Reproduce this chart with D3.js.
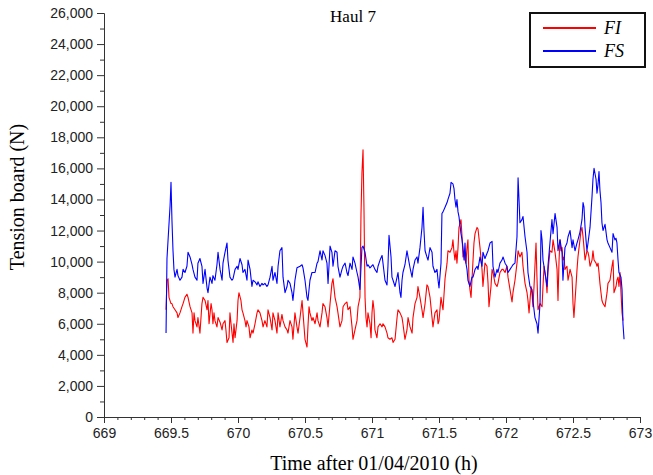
<!DOCTYPE html>
<html><head><meta charset="utf-8">
<script src="https://cdn.jsdelivr.net/npm/d3@7"></script>
<style>html,body{margin:0;padding:0;background:#fff;}</style>
</head><body>
<script>
const chartTitle = "Haul 7";
const xLabel = "Time after 01/04/2010 (h)";
const yLabel = "Tension board (N)";
const seriesNames = ["FI", "FS"];
const seriesColors = ["#ff0000", "#0000ff"];
const xMajorTicks = [669, 669.5, 670, 670.5, 671, 671.5, 672, 672.5, 673];
const yMajorTicks = [0,2000,4000,6000,8000,10000,12000,14000,16000,18000,20000,22000,24000,26000];

// FI (red) : [time (h), tension (N)]
const FI = [[669.463,6900],[669.470,8800],[669.478,8900],[669.485,7700],[669.500,7300],[669.507,7300],[669.515,7100],[669.530,6900],[669.545,6700],[669.552,6400],[669.567,6700],[669.582,7100],[669.590,7300],[669.604,7700],[669.619,7900],[669.627,7700],[669.642,7100],[669.657,6700],[669.664,5400],[669.672,6700],[669.679,6200],[669.694,5800],[669.701,6400],[669.716,5400],[669.731,7300],[669.739,7700],[669.754,7500],[669.769,6900],[669.776,7500],[669.784,6000],[669.799,7300],[669.806,6900],[669.813,6000],[669.821,6700],[669.828,6200],[669.843,5800],[669.851,6400],[669.866,6100],[669.881,5600],[669.888,6000],[669.903,6200],[669.910,5600],[669.918,4800],[669.933,5100],[669.940,6700],[669.948,6000],[669.963,4800],[669.970,6000],[669.978,5100],[669.993,6200],[670.000,7500],[670.007,8000],[670.022,7500],[670.030,6900],[670.037,6700],[670.052,6200],[670.060,5800],[670.067,6200],[670.082,5800],[670.090,5100],[670.104,5600],[670.112,5400],[670.127,6000],[670.142,6700],[670.149,6900],[670.164,6700],[670.179,6200],[670.187,5800],[670.201,6200],[670.216,5800],[670.224,6900],[670.239,6400],[670.254,5600],[670.261,6700],[670.276,6200],[670.291,5400],[670.299,6700],[670.313,5800],[670.328,6600],[670.336,6200],[670.351,5800],[670.366,5600],[670.373,5400],[670.388,6200],[670.403,5800],[670.410,5000],[670.425,6700],[670.440,5800],[670.448,5400],[670.463,6400],[670.478,7500],[670.485,6700],[670.500,5000],[670.515,4500],[670.522,5800],[670.530,7100],[670.537,6700],[670.552,6200],[670.560,6400],[670.575,6000],[670.590,6700],[670.597,6200],[670.612,5800],[670.627,6700],[670.634,7300],[670.649,7100],[670.664,6400],[670.672,5800],[670.687,7300],[670.701,8600],[670.709,8900],[670.724,7700],[670.739,7100],[670.746,6700],[670.761,5800],[670.776,6200],[670.784,7100],[670.799,7300],[670.813,7400],[670.821,6900],[670.836,7100],[670.851,5800],[670.858,5000],[670.873,5600],[670.888,6200],[670.896,7100],[670.910,7700],[670.918,13100],[670.925,15700],[670.933,17200],[670.940,13500],[670.948,7700],[670.955,6400],[670.963,5800],[670.970,6700],[670.985,6000],[670.993,5100],[671.000,6700],[671.007,7500],[671.015,6900],[671.022,5600],[671.037,5100],[671.045,5800],[671.060,6000],[671.075,5800],[671.082,6000],[671.097,5800],[671.112,5400],[671.119,5100],[671.134,5000],[671.149,5100],[671.157,4800],[671.172,5000],[671.187,6400],[671.194,6900],[671.209,6700],[671.224,6400],[671.231,6000],[671.246,5000],[671.261,5600],[671.269,6400],[671.284,5800],[671.299,5400],[671.306,6400],[671.321,7300],[671.336,7700],[671.343,8400],[671.358,7700],[671.373,6900],[671.381,6400],[671.396,7300],[671.410,8500],[671.418,8400],[671.433,7700],[671.448,6400],[671.455,5800],[671.470,6700],[671.485,6900],[671.493,6000],[671.500,6200],[671.515,7700],[671.522,7300],[671.530,6900],[671.545,8900],[671.560,9900],[671.567,10700],[671.582,10600],[671.597,10900],[671.604,11400],[671.612,10600],[671.619,10100],[671.627,10700],[671.634,9900],[671.642,10900],[671.649,12200],[671.664,12700],[671.672,11600],[671.679,10300],[671.687,10700],[671.694,10100],[671.701,9900],[671.709,10900],[671.716,11400],[671.724,8800],[671.731,8200],[671.739,7700],[671.746,8800],[671.754,10100],[671.761,11200],[671.769,11800],[671.784,12200],[671.791,12100],[671.806,10900],[671.821,9500],[671.828,8400],[671.843,9900],[671.858,9700],[671.866,8600],[671.873,7100],[671.888,8400],[671.896,9500],[671.903,9300],[671.918,8600],[671.933,8400],[671.940,8600],[671.955,9300],[671.970,9500],[671.978,9500],[671.993,9300],[672.007,9700],[672.015,9000],[672.030,8200],[672.045,7400],[672.052,8000],[672.067,8800],[672.082,9900],[672.090,10700],[672.104,10300],[672.119,10600],[672.127,9700],[672.142,8600],[672.157,8000],[672.164,7500],[672.172,6700],[672.187,8400],[672.194,8000],[672.201,7100],[672.209,8400],[672.224,11200],[672.231,9000],[672.239,6900],[672.254,7300],[672.269,7100],[672.276,8400],[672.284,9700],[672.299,8800],[672.306,8000],[672.313,9300],[672.328,10700],[672.343,10600],[672.351,11400],[672.366,10600],[672.381,9500],[672.388,7500],[672.396,10100],[672.403,11400],[672.410,10700],[672.418,10900],[672.425,10100],[672.433,10300],[672.440,9500],[672.455,9700],[672.463,8800],[672.478,9500],[672.493,9000],[672.500,7300],[672.507,6400],[672.522,8400],[672.530,9500],[672.537,10300],[672.552,11400],[672.560,12000],[672.567,12200],[672.575,11600],[672.582,10900],[672.590,10100],[672.604,10700],[672.612,10600],[672.619,10300],[672.627,9700],[672.642,10100],[672.649,10700],[672.657,10100],[672.672,9900],[672.679,9700],[672.687,9900],[672.694,9300],[672.701,8600],[672.709,8000],[672.716,7500],[672.724,7300],[672.739,7100],[672.754,8000],[672.761,8600],[672.776,8800],[672.791,9700],[672.799,10100],[672.806,8000],[672.821,8400],[672.828,8800],[672.836,9000],[672.843,8400],[672.851,9300],[672.858,8000],[672.866,6700],[672.873,6200]];

// FS (blue) : [time (h), tension (N)]
const FS = [[669.463,5400],[669.470,10200],[669.493,13600],[669.500,15100],[669.507,12700],[669.515,10700],[669.522,9500],[669.530,9000],[669.545,9500],[669.552,9100],[669.567,8800],[669.582,9000],[669.590,9500],[669.604,9300],[669.619,9700],[669.627,10600],[669.642,10300],[669.657,9800],[669.664,9500],[669.679,9000],[669.694,8800],[669.701,9900],[669.716,10200],[669.731,9700],[669.739,8600],[669.754,9500],[669.769,8300],[669.776,8000],[669.791,9000],[669.806,8600],[669.813,9100],[669.828,8800],[669.843,9800],[669.851,10600],[669.866,9500],[669.881,8800],[669.888,9900],[669.903,10600],[669.918,11200],[669.925,10100],[669.940,9000],[669.955,8800],[669.963,8900],[669.978,9500],[669.993,9700],[670.000,9500],[670.015,10200],[670.030,9800],[670.037,9300],[670.052,9500],[670.067,8800],[670.075,10100],[670.090,9500],[670.104,8400],[670.112,8800],[670.127,8700],[670.142,8500],[670.149,8700],[670.164,8400],[670.179,8600],[670.187,8500],[670.201,8600],[670.216,8400],[670.224,8500],[670.239,9000],[670.254,9700],[670.261,8800],[670.276,9300],[670.291,8600],[670.299,9700],[670.313,10700],[670.328,10900],[670.336,9000],[670.351,8000],[670.366,8400],[670.373,8800],[670.388,8600],[670.403,8000],[670.410,7500],[670.425,8800],[670.440,9600],[670.463,9700],[670.478,9800],[670.485,9600],[670.500,8800],[670.515,7700],[670.522,7500],[670.537,8800],[670.552,9300],[670.575,9300],[670.590,9900],[670.597,10000],[670.612,10700],[670.627,10100],[670.634,10700],[670.649,10400],[670.664,9900],[670.672,8600],[670.687,11000],[670.701,10600],[670.709,9700],[670.724,10700],[670.739,10600],[670.746,9700],[670.761,9000],[670.776,9500],[670.784,9700],[670.799,9900],[670.813,9300],[670.821,9100],[670.836,9900],[670.851,9500],[670.858,10300],[670.873,9900],[670.888,9300],[670.896,9000],[670.910,8200],[670.925,10900],[670.933,11000],[670.948,10600],[670.963,9700],[670.970,9800],[670.985,9600],[671.007,9800],[671.022,9500],[671.037,9300],[671.045,9700],[671.060,10100],[671.075,10400],[671.082,9900],[671.097,8800],[671.112,8500],[671.119,9700],[671.127,11700],[671.142,10300],[671.149,9000],[671.157,8800],[671.172,8400],[671.187,9000],[671.194,9300],[671.209,8000],[671.216,7700],[671.224,8800],[671.231,9300],[671.246,9800],[671.261,10700],[671.269,10300],[671.284,9600],[671.299,9000],[671.306,9500],[671.321,10100],[671.336,10300],[671.343,9900],[671.358,10900],[671.373,12200],[671.381,13500],[671.388,12000],[671.396,10700],[671.410,10300],[671.418,10100],[671.433,10900],[671.448,10600],[671.455,9700],[671.470,9300],[671.485,9500],[671.493,8800],[671.500,8300],[671.515,9900],[671.522,13100],[671.530,13200],[671.545,13500],[671.560,13800],[671.567,14000],[671.582,14400],[671.590,15100],[671.604,15000],[671.612,14700],[671.619,14000],[671.627,13500],[671.634,14000],[671.642,13200],[671.649,12900],[671.664,11800],[671.672,11400],[671.679,10900],[671.687,10100],[671.694,11200],[671.701,9900],[671.709,9500],[671.716,8800],[671.731,8400],[671.746,9000],[671.754,9000],[671.769,9500],[671.784,9700],[671.791,9500],[671.806,10300],[671.821,9700],[671.828,10600],[671.843,10200],[671.866,10700],[671.881,11200],[671.896,11300],[671.903,9700],[671.918,9000],[671.933,9500],[671.940,9300],[671.955,9900],[671.970,10100],[671.978,10300],[671.993,9900],[672.007,9700],[672.015,9300],[672.030,9500],[672.045,9700],[672.052,9800],[672.067,9900],[672.082,11600],[672.090,15400],[672.097,14000],[672.104,12500],[672.119,12700],[672.127,12900],[672.142,11600],[672.157,10600],[672.164,9300],[672.179,8400],[672.194,8200],[672.201,7500],[672.216,6400],[672.231,6000],[672.239,5400],[672.254,7300],[672.261,12000],[672.269,11400],[672.276,10100],[672.291,9300],[672.306,8400],[672.313,9700],[672.328,11200],[672.343,12700],[672.351,11800],[672.366,13100],[672.381,12200],[672.388,10700],[672.403,11400],[672.418,10600],[672.425,8800],[672.440,10900],[672.455,11200],[672.463,11600],[672.478,12000],[672.493,10900],[672.500,11400],[672.515,10700],[672.530,11200],[672.537,11400],[672.552,11900],[672.567,12700],[672.575,13800],[672.582,13500],[672.590,12200],[672.597,11400],[672.604,10700],[672.612,11200],[672.627,12200],[672.642,14200],[672.649,15300],[672.657,16000],[672.672,15300],[672.679,14400],[672.687,15000],[672.694,15800],[672.701,14600],[672.709,13800],[672.716,12500],[672.724,12000],[672.739,12400],[672.754,11400],[672.761,11200],[672.776,10900],[672.791,10600],[672.799,11800],[672.813,11400],[672.821,11500],[672.828,11200],[672.836,10100],[672.843,9300],[672.858,9000],[672.866,8200],[672.873,6000],[672.881,5000]];

const W = 653, H = 475;
const svg = d3.select("body").append("svg").attr("width", W).attr("height", H)
  .style("font-family", "'Liberation Sans', Arial, sans-serif");

const x = d3.scaleLinear().domain([669, 673]).range([104, 640]);
const y = d3.scaleLinear().domain([0, 26000]).range([417, 13]);

const axisColor = "#333";
const fmtX = d => String(+d.toFixed(1));

// minor ticks
const xMinor = d3.range(6690, 6731).map(v => v / 10).filter(v => !xMajorTicks.includes(v));
const yMinor = d3.range(1000, 26000, 2000);

const gxMinor = svg.append("g").attr("transform", "translate(0,417)")
  .call(d3.axisBottom(x).tickValues(xMinor).tickSize(3).tickSizeOuter(0).tickFormat(""));
const gyMinor = svg.append("g").attr("transform", "translate(104,0)")
  .call(d3.axisLeft(y).tickValues(yMinor).tickSize(4).tickSizeOuter(0).tickFormat(""));

const gx = svg.append("g").attr("transform", "translate(0,417)")
  .call(d3.axisBottom(x).tickValues(xMajorTicks).tickSize(6).tickSizeOuter(0).tickPadding(5).tickFormat(fmtX));
const gy = svg.append("g").attr("transform", "translate(104,0)")
  .call(d3.axisLeft(y).tickValues(yMajorTicks).tickSize(7).tickSizeOuter(0).tickPadding(4).tickFormat(d3.format(",")));

[gxMinor, gyMinor, gx, gy].forEach(g => {
  g.selectAll("path, line").attr("stroke", axisColor).attr("stroke-width", 1);
  g.selectAll("text").attr("fill", "#222").style("font-size", "14px")
    .style("font-family", "'Liberation Sans', Arial, sans-serif");
});

// lines
const line = d3.line().x(d => x(d[0])).y(d => y(d[1]));
[FI, FS].forEach((data, i) => {
  svg.append("path").datum(data).attr("d", line)
    .attr("fill", "none").attr("stroke", seriesColors[i]).attr("stroke-width", 1.1)
    .attr("stroke-linejoin", "round");
});

// title
svg.append("text").attr("x", 353).attr("y", 22).attr("text-anchor", "middle")
  .style("font-family", "'Liberation Serif', 'Times New Roman', serif").style("font-size", "17px")
  .text(chartTitle);

// axis titles
svg.append("text").attr("x", 374).attr("y", 470).attr("text-anchor", "middle")
  .style("font-family", "'Liberation Serif', 'Times New Roman', serif").style("font-size", "20px")
  .text(xLabel);
svg.append("text").attr("transform", "translate(24,197) rotate(-90)").attr("text-anchor", "middle")
  .style("font-family", "'Liberation Serif', 'Times New Roman', serif").style("font-size", "20px")
  .text(yLabel);

// legend
const lg = svg.append("g");
lg.append("rect").attr("x", 530).attr("y", 13).attr("width", 115).attr("height", 54)
  .attr("fill", "#fff").attr("stroke", "#111").attr("stroke-width", 2);
seriesNames.forEach((n, i) => {
  const yy = 28 + i * 23;
  lg.append("line").attr("x1", 543).attr("x2", 596).attr("y1", yy).attr("y2", yy)
    .attr("stroke", seriesColors[i]).attr("stroke-width", 2);
  lg.append("text").attr("x", 604).attr("y", yy + 6)
    .style("font-family", "'Liberation Serif', 'Times New Roman', serif").style("font-size", "18px")
    .style("font-style", "italic").text(n);
});
</script>
</body></html>
